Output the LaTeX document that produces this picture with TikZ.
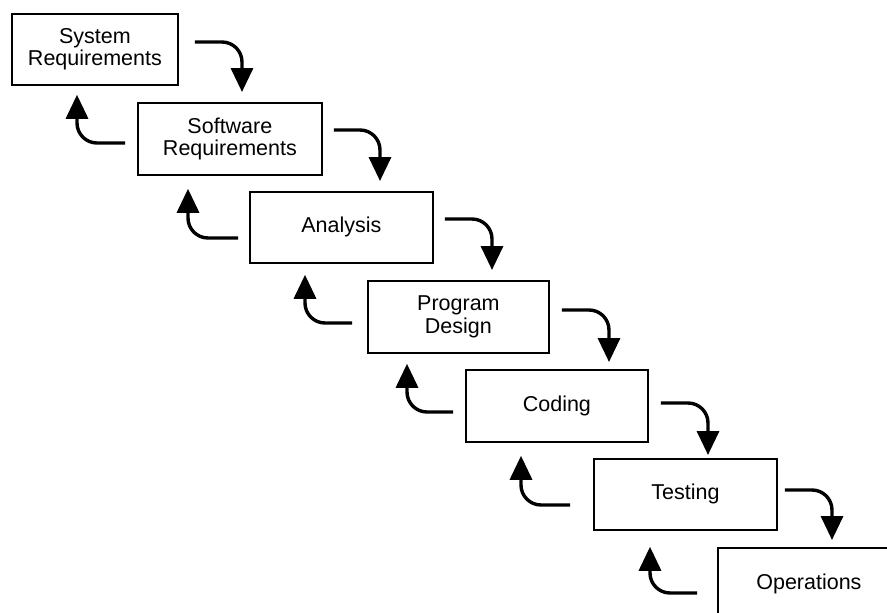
\documentclass[tikz,border=0pt]{standalone}
\usepackage{fontspec}
\setmainfont{Liberation Sans}
\usetikzlibrary{arrows.meta}
\begin{document}
\begin{tikzpicture}[x=1pt,y=-1pt,
  stagebox/.style={draw=black, line width=1.8pt, fill=white, anchor=north west, inner sep=0pt,
    align=center, font=\fontsize{21.5}{22.5}\selectfont},
  flowarrow/.style={line width=3.4pt, rounded corners=20pt, -{Triangle[length=24pt,width=22pt]}}]
\useasboundingbox (0,0) rectangle (887,613);
\clip (0,0) rectangle (887,613);
\node[stagebox, minimum width=166pt, minimum height=71pt] (s1) at (11,13) {System\\Requirements};
\node[stagebox, minimum width=184pt, minimum height=72pt] (s2) at (137,102) {Software\\Requirements};
\node[stagebox, minimum width=183pt, minimum height=71pt] (s3) at (249,191) {Analysis};
\node[stagebox, minimum width=181pt, minimum height=72pt] (s4) at (367,280) {Program\\Design};
\node[stagebox, minimum width=182pt, minimum height=72pt] (s5) at (465,369) {Coding};
\node[stagebox, minimum width=183pt, minimum height=71pt] (s6) at (593,458) {Testing};
\node[stagebox, minimum width=220pt, minimum height=73pt] (s7) at (717,547) {\hspace*{-38pt}Operations};
% forward arrows
\draw[flowarrow] ([shift={(16,29)}]s1.north east) -| ([shift={(105,-10)}]s2.north west);
\draw[flowarrow] ([shift={(11,28)}]s2.north east) -| ([shift={(131,-10)}]s3.north west);
\draw[flowarrow] ([shift={(11,28)}]s3.north east) -| ([shift={(125,-10)}]s4.north west);
\draw[flowarrow] ([shift={(12,30)}]s4.north east) -| ([shift={(144,-7)}]s5.north west);
\draw[flowarrow] ([shift={(12,34)}]s5.north east) -| ([shift={(115,-3)}]s6.north west);
\draw[flowarrow] ([shift={(7,32)}]s6.north east) -| ([shift={(115,-7)}]s7.north west);
% back arrows
\draw[flowarrow] ([shift={(-12,41)}]s2.north west) -| ([shift={(66,9)}]s1.south west);
\draw[flowarrow] ([shift={(-11,47)}]s3.north west) -| ([shift={(51,13)}]s2.south west);
\draw[flowarrow] ([shift={(-15,43)}]s4.north west) -| ([shift={(56,11)}]s3.south west);
\draw[flowarrow] ([shift={(-12,43)}]s5.north west) -| ([shift={(40,10)}]s4.south west);
\draw[flowarrow] ([shift={(-23,47)}]s6.north west) -| ([shift={(56,13)}]s5.south west);
\draw[flowarrow] ([shift={(-20,46)}]s7.north west) -| ([shift={(57,16)}]s6.south west);
\end{tikzpicture}
\end{document}
